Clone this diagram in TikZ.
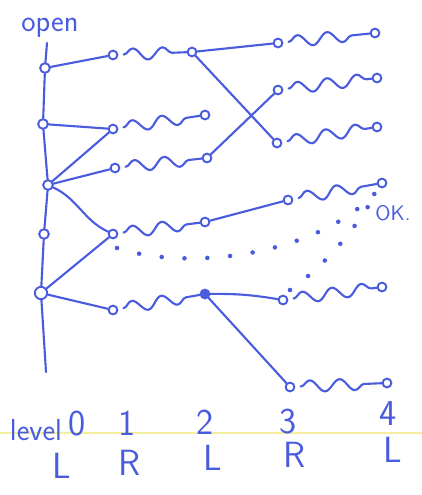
\documentclass[tikz,border=0pt]{standalone}
\usepackage{xcolor}
\usepackage{tikz}
\usetikzlibrary{decorations.pathmorphing}

\definecolor{pen}{RGB}{74,92,222}
\definecolor{ruling}{RGB}{244,238,160}

\begin{document}
\begin{tikzpicture}[
    x=0.02cm, y=-0.02cm,
    wire/.style={draw=pen, line width=1.2pt, line cap=round},
    term/.style={circle, draw=pen, line width=1.1pt, inner sep=0pt, minimum size=5pt},
    busterm/.style={term, minimum size=5.5pt},
    dotterm/.style={term, fill=pen},
    res/.style={wire, decorate, decoration={snake, amplitude=3.3pt, segment length=17pt, pre=moveto, pre length=3pt, post length=2pt}},
    dotline/.style={draw=pen, line width=2.6pt, line cap=round, dash pattern=on 0pt off 13pt},
    lvltext/.style={text=pen, font=\sffamily\huge, anchor=base, inner sep=0pt}
]
    \fill [white] (0,0) rectangle (422,495);
    \useasboundingbox (0,0) rectangle (422,495);

    % paper ruling
    \draw [ruling, line width=0.8pt] (0,433) -- (422,433);

    % level 0 bus
    \node [text=pen, font=\sffamily\LARGE] (open) at (50,28) {open};
    \coordinate (bustop) at (47,43);
    \coordinate (busbot) at (46,372);
    \node [busterm] (a1) at (45,68) {};
    \node [busterm] (a2) at (43,124) {};
    \node [busterm] (a3) at (48,185) {};
    \node [busterm] (a4) at (44,234) {};
    \node [busterm, minimum size=7pt] (a5) at (41,293) {};
    \draw [wire] (bustop) -- (a1) -- (a2) -- (a3) -- (a4) -- (a5) -- (busbot);

    % level 1 resistors
    \node [term] (b1) at (113,55) {};
    \node [term] (c1) at (192,52) {};
    \node [term] (b2) at (113,129) {};
    \node [term] (c2) at (205,115) {};
    \node [term] (b3) at (115,168) {};
    \node [term] (c3) at (207,158) {};
    \node [term] (b4) at (113,234) {};
    \node [term] (c4) at (205,222) {};
    \node [term] (b5) at (113,310) {};
    \node [dotterm] (c5) at (205,294) {};
    \foreach \i in {1,...,5}
        \draw [res] (b\i) -- (c\i);

    \draw [wire] (a1) -- (b1);
    \draw [wire] (a2) -- (b2);
    \draw [wire] (a3) -- (b2);
    \draw [wire] (a3) -- (b3);
    \draw [wire] (a3) to[out=-25, in=155] (b4);
    \draw [wire] (a5) -- (b4);
    \draw [wire] (a5) -- (b5);

    % level 3 resistors
    \node [term] (d1) at (278,43) {};
    \node [term] (e1) at (375,33) {};
    \node [term] (d2) at (278,90) {};
    \node [term] (e2) at (377,78) {};
    \node [term] (d3) at (277,143) {};
    \node [term] (e3) at (377,127) {};
    \node [term] (d4) at (288,200) {};
    \node [term] (e4) at (382,183) {};
    \node [term] (d5) at (283,300) {};
    \node [term] (e5) at (382,287) {};
    \node [term] (d6) at (290,387) {};
    \node [term] (e6) at (387,383) {};
    \foreach \i in {1,...,6}
        \draw [res] (d\i) -- (e\i);

    \draw [wire] (c1) -- (d1);
    \draw [wire] (c1) -- (d3);
    \draw [wire] (c3) -- (d2);
    \draw [wire] (c4) -- (d4);
    \draw [wire] (c5) to[bend left=5] (d5);
    \draw [wire] (c5) -- (d6);

    % dotted paths
    \coordinate (dotA) at (117,248);
    \coordinate (dotB) at (290,290);
    \coordinate (dotC) at (378,190);
    \draw [dotline] (dotA) .. controls (190,272) and (320,255) .. (dotC);
    \draw [dotline] (dotB) .. controls (330,262) and (360,222) .. (dotC);
    \node [text=pen, font=\sffamily\large] (ok) at (393,213) {OK.};

    % level labels
    \node [lvltext, font=\sffamily\LARGE] (lvl) at (36,440) {level};
    \node [lvltext] (l0) at (77,435) {0};
    \node [lvltext] (l1) at (127,435) {1};
    \node [lvltext] (l2) at (205,434) {2};
    \node [lvltext] (l3) at (288,433) {3};
    \node [lvltext] (l4) at (388,425) {4};
    \node [lvltext] (s0) at (62,478) {L};
    \node [lvltext] (s1) at (130,475) {R};
    \node [lvltext] (s2) at (213,470) {L};
    \node [lvltext] (s3) at (295,467) {R};
    \node [lvltext] (s4) at (393,462) {L};
\end{tikzpicture}
\end{document}
